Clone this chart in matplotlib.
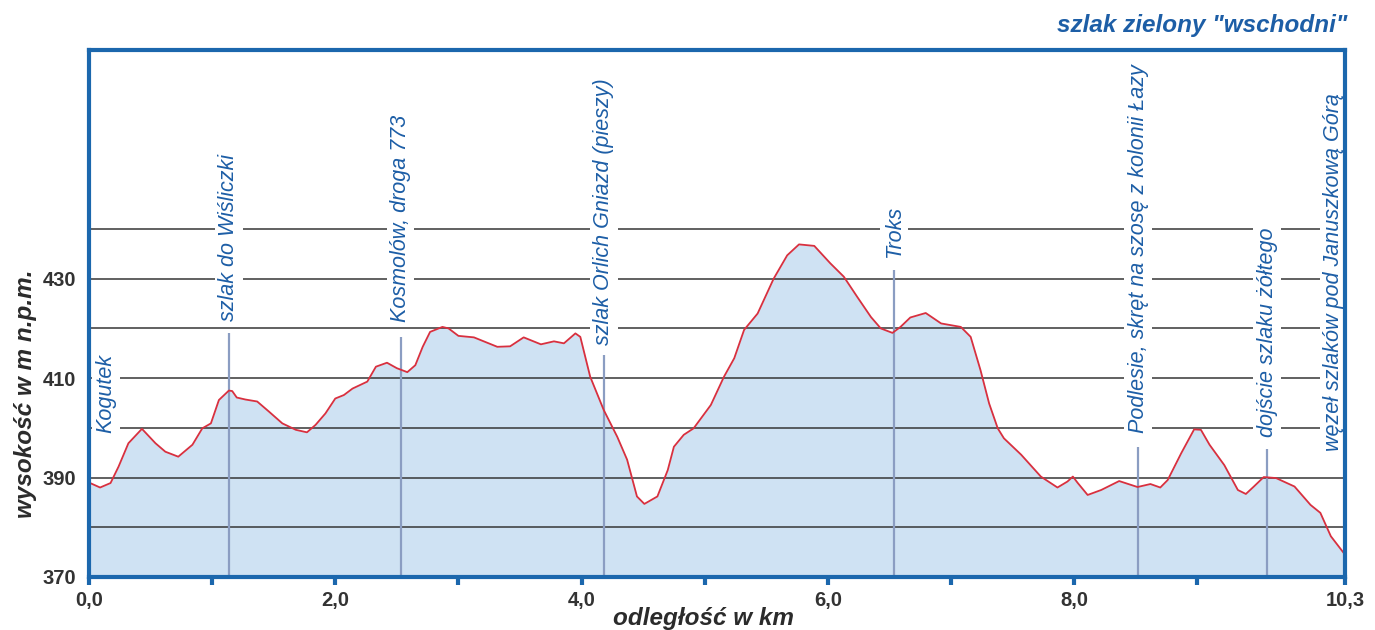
import matplotlib

matplotlib.use("Agg")
import matplotlib.pyplot as plt

# elevation profile (km, m a.s.l.)
distance_km = [
    0.0, 0.09, 0.175, 0.24, 0.32, 0.43, 0.54, 0.62, 0.725, 0.84, 0.92, 0.99,
    1.055, 1.136, 1.163, 1.20, 1.27, 1.366, 1.46, 1.57, 1.68, 1.77, 1.84, 1.92,
    2.00, 2.07, 2.14, 2.26, 2.33, 2.42, 2.50, 2.585, 2.65, 2.71, 2.77, 2.87,
    2.92, 3.00, 3.126, 3.316, 3.42, 3.53, 3.67, 3.776, 3.857, 3.95, 3.99, 4.07,
    4.18, 4.29, 4.37, 4.45, 4.51, 4.616, 4.70, 4.75, 4.83, 4.91, 5.05, 5.157,
    5.24, 5.32, 5.43, 5.56, 5.67, 5.766, 5.89, 6.02, 6.13, 6.24, 6.35, 6.43,
    6.525, 6.59, 6.67, 6.795, 6.92, 7.08, 7.16, 7.24, 7.31, 7.38, 7.43, 7.57,
    7.73, 7.865, 7.946, 7.99, 8.03, 8.11, 8.22, 8.366, 8.515, 8.62, 8.70, 8.76,
    8.87, 8.975, 9.03, 9.10, 9.22, 9.33, 9.395, 9.46, 9.54, 9.64, 9.79, 9.92,
    10.0, 10.085, 10.2,
]
elevation_m = [
    389.0, 388.0, 388.9, 392.2, 396.9, 399.8, 396.9, 395.2, 394.2, 396.6, 399.9, 400.9,
    405.6, 407.5, 407.4, 406.1, 405.7, 405.3, 403.3, 400.9, 399.6, 399.1, 400.6, 402.9,
    405.9, 406.6, 407.9, 409.3, 412.3, 413.1, 412.0, 411.2, 412.6, 416.3, 419.3, 420.3,
    420.0, 418.5, 418.2, 416.3, 416.4, 418.2, 416.8, 417.4, 417.0, 419.0, 418.3, 410.3,
    403.6, 398.2, 393.6, 386.2, 384.7, 386.2, 391.5, 396.2, 398.6, 399.9, 404.6, 410.3,
    414.0, 419.7, 423.0, 430.0, 434.7, 436.9, 436.6, 433.1, 430.4, 426.3, 422.3, 420.0,
    419.1, 420.3, 422.2, 423.1, 421.0, 420.3, 418.3, 411.6, 404.9, 399.9, 397.9, 394.6,
    390.2, 388.0, 389.2, 390.2, 388.9, 386.5, 387.5, 389.3, 388.1, 388.7, 388.0, 389.5,
    394.9, 399.7, 399.6, 396.6, 392.5, 387.5, 386.7, 388.2, 390.1, 389.9, 388.2, 384.5,
    382.9, 378.2, 374.5,
]

# waypoints along the trail
waypoint_names = [
    "Kogutek",
    "szlak do Wiśliczki",
    "Kosmolów, droga 773",
    "szlak Orlich Gniazd (pieszy)",
    "Troks",
    "Podlesie, skręt na szosę z kolonii Łazy",
    "dojście szlaku żółtego",
    "węzeł szlaków pod Januszkową Górą",
]
waypoint_km = [0.14, 1.136, 2.53, 4.18, 6.54, 8.52, 9.57, 10.11]
waypoint_label_base = [399.0, 421.4, 421.3, 416.6, 434.1, 399.0, 398.2, 395.4]
waypoint_line_top = [None, 419.0, 418.2, 414.6, 431.7, 396.2, 395.7, None]

grid_levels = [380, 390, 400, 410, 420, 430, 440]
y_ticks = [370, 390, 410, 430]
x_ticks = [0, 2, 4, 6, 8, 10.2]
x_tick_labels = ["0,0", "2,0", "4,0", "6,0", "8,0", "10,3"]
x_minor_ticks = [1, 3, 5, 7, 9]

BLUE = "#1b67ad"
LABEL_BLUE = "#1d5ea6"
FILL = "#cfe2f3"
RED = "#d8303f"
MARKER_LINE = "#8b9dc2"
DARK = "#2b2b2b"

plt.rcParams["font.family"] = ["Liberation Sans", "DejaVu Sans"]

fig = plt.figure(figsize=(13.75, 6.3), dpi=100)
ax = fig.add_axes([89 / 1375, 1 - 577 / 630, 1256 / 1375, 527 / 630])
x_end = distance_km[-1]
ax.set_xlim(0, x_end)
ax.set_ylim(370, 476)

ax.fill_between(distance_km, elevation_m, 370, color=FILL, lw=0, zorder=1)
ax.hlines(grid_levels, 0, x_end, color="#363636", lw=1.1, zorder=2)
ax.plot(distance_km, elevation_m, color=RED, lw=1.3, zorder=4,
        solid_joinstyle="round")

for km, name, base, top in zip(waypoint_km, waypoint_names,
                               waypoint_label_base, waypoint_line_top):
    if top is not None:
        ax.vlines(km, 370, top, color=MARKER_LINE, lw=1.6, zorder=3)
    ax.text(km, base, name, rotation=90, ha="center", va="bottom",
            fontsize=15.5, style="italic", color=LABEL_BLUE, zorder=5,
            bbox=dict(facecolor="white", edgecolor="none", pad=2.5))

for side in ax.spines.values():
    side.set_color(BLUE)
    side.set_linewidth(3)
    side.set_zorder(6)

ax.set_xticks(x_ticks, x_tick_labels)
ax.set_xticks(x_minor_ticks, minor=True)
ax.set_yticks(y_ticks, [str(v) for v in y_ticks])
ax.tick_params(axis="x", which="both", direction="out", length=6, width=3,
               color=BLUE, pad=4)
ax.tick_params(axis="y", length=0, pad=9)
for lab in ax.get_xticklabels() + ax.get_yticklabels():
    lab.set_fontweight("bold")
    lab.set_fontsize(14.5)
    lab.set_color("#333333")

fig.text(26 / 1375, 1 - 394 / 630, "wysokość w m n.p.m.", rotation=90,
         ha="center", va="center", fontsize=17.5, fontweight="bold",
         style="italic", color=DARK)
fig.text(703 / 1375, 1 - 625 / 630, "odległość w km", ha="center",
         va="baseline", fontsize=17.5, fontweight="bold", style="italic",
         color=DARK)
fig.text(1347 / 1375, 1 - 32 / 630, 'szlak zielony "wschodni"', ha="right",
         va="baseline", fontsize=17.5, fontweight="bold", style="italic",
         color=LABEL_BLUE)

fig.savefig("out.png", dpi=100)
plt.close(fig)
